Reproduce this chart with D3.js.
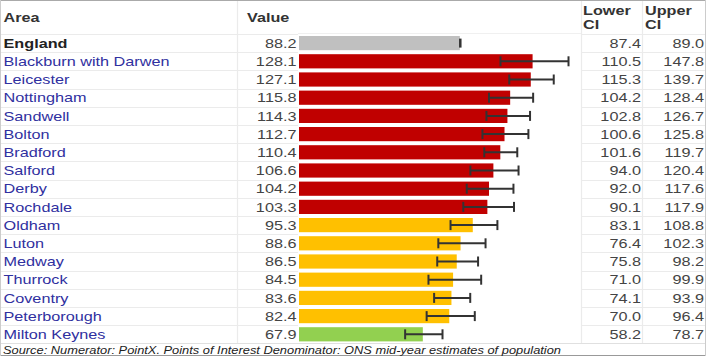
<!DOCTYPE html>
<html><head><meta charset="utf-8">
<script src="https://cdn.jsdelivr.net/npm/d3@7"></script>
<style>html,body{margin:0;padding:0;background:#fff;}svg{display:block;}</style>
</head><body>
<svg id="chart" width="706" height="357"></svg>
<script>
const areas = ["England","Blackburn with Darwen","Leicester","Nottingham","Sandwell","Bolton","Bradford","Salford","Derby","Rochdale","Oldham","Luton","Medway","Thurrock","Coventry","Peterborough","Milton Keynes"];
const values = [88.2,128.1,127.1,115.8,114.3,112.7,110.4,106.6,104.2,103.3,95.3,88.6,86.5,84.5,83.6,82.4,67.9];
const lowerCI = [87.4,110.5,115.3,104.2,102.8,100.6,101.6,94.0,92.0,90.1,83.1,76.4,75.8,71.0,74.1,70.0,58.2];
const upperCI = [89.0,147.8,139.7,128.4,126.7,125.8,119.7,120.4,117.6,117.9,108.8,102.3,98.2,99.9,93.9,96.4,78.7];
const significance = ["England","Higher","Higher","Higher","Higher","Higher","Higher","Higher","Higher","Higher","Similar","Similar","Similar","Similar","Similar","Similar","Lower"];
const headers = {area:"Area", value:"Value", lower:["Lower","CI"], upper:["Upper","CI"]};
const sourceText = "Source: Numerator: PointX. Points of Interest Denominator: ONS mid-year estimates of population";

const svg = d3.select("#chart");
const W = 706, H = 357;
const rows = areas.map((a,i)=>({area:a,value:values[i],lo:lowerCI[i],hi:upperCI[i],sig:significance[i],i}));

const y = d3.scaleBand().domain(areas).range([34, 34 + 18.2*areas.length]).padding(0);
const x = d3.scaleLinear().domain([0, 153]).range([299, 578]);
const colour = d3.scaleOrdinal().domain(["England","Higher","Similar","Lower"]).range(["#c0c0c0","#c00000","#ffc000","#92d050"]);

const font = "'Liberation Sans', Arial, sans-serif";
const SX = 1.3, HSX = 1.2;

const gridColor = "#ebebeb";
const rowBottoms = rows.map(d => y(d.area) + y.bandwidth());
[[0,298],[581,706]].forEach(([a,b])=>{
  svg.append("g").selectAll("line").data([34].concat(rowBottoms.slice(0,-1))).join("line")
    .attr("x1",a).attr("x2",b).attr("y1",d=>Math.round(d)+0.5).attr("y2",d=>Math.round(d)+0.5)
    .attr("stroke",gridColor).attr("stroke-width",1.2);
});
svg.append("line").attr("x1",298).attr("x2",581).attr("y1",33.5).attr("y2",33.5).attr("stroke","#f0f0f0");
[237, 581, 642].forEach(xx=>{
  svg.append("line").attr("x1",xx+0.5).attr("x2",xx+0.5).attr("y1",0).attr("y2",343)
    .attr("stroke",gridColor).attr("stroke-width",1.2);
});
svg.append("line").attr("x1",0).attr("x2",W).attr("y1",0.5).attr("y2",0.5).attr("stroke","#aaa");
svg.append("line").attr("x1",0).attr("x2",W).attr("y1",343.5).attr("y2",343.5).attr("stroke","#e0e0e0");
svg.append("line").attr("x1",0).attr("x2",W).attr("y1",355.5).attr("y2",355.5).attr("stroke","#999");
svg.append("line").attr("x1",0.5).attr("x2",0.5).attr("y1",0).attr("y2",356).attr("stroke","#ccc");
svg.append("line").attr("x1",705.5).attr("x2",705.5).attr("y1",0).attr("y2",356).attr("stroke","#ccc");

function htext(t, xx, yy){
  svg.append("text").attr("transform",`translate(${xx},${yy}) scale(${HSX},1)`)
    .attr("font-family",font).attr("font-weight","bold").attr("font-size",13.5)
    .attr("fill","#333").text(t);
}
htext(headers.area, 3.5, 22);
htext(headers.value, 247, 22);
htext(headers.lower[0], 583, 15); htext(headers.lower[1], 583, 29);
htext(headers.upper[0], 645, 15); htext(headers.upper[1], 645, 29);

svg.append("g").selectAll("rect").data(rows).join("rect")
  .attr("x", x(0)).attr("y", d=>y(d.area)+2).attr("width", d=>x(d.value)-x(0))
  .attr("height", y.bandwidth()-4).attr("fill", d=>colour(d.sig));

const eb = svg.append("g").attr("stroke","#333").attr("stroke-width",2);
rows.forEach(d=>{
  const cy = y(d.area) + y.bandwidth()/2;
  if (d.i === 0) {
    eb.append("line").attr("x1",x(d.hi)-1).attr("x2",x(d.hi)-1).attr("y1",cy-4.5).attr("y2",cy+4.5).attr("stroke-width",2.5);
    return;
  }
  eb.append("line").attr("x1",x(d.lo)).attr("x2",x(d.hi)).attr("y1",cy).attr("y2",cy);
  [d.lo,d.hi].forEach(v=>eb.append("line").attr("x1",x(v)).attr("x2",x(v)).attr("y1",cy-5).attr("y2",cy+5));
});

function btext(t, xx, yy, anchor, fill, bold){
  svg.append("text").attr("transform",`translate(${xx},${yy}) scale(${SX},1)`)
    .attr("font-family",font).attr("font-size",12.5).attr("text-anchor",anchor)
    .attr("font-weight", bold ? "bold" : "normal")
    .attr("fill",fill).text(t);
}
rows.forEach(d=>{
  const by = y(d.area) + 13.8;
  btext(d.area, 3.5, by, "start", d.i===0 ? "#222" : "#3030a0", d.i===0);
  btext(d3.format(".1f")(d.value), 296.5, by, "end", "#444");
  btext(d3.format(".1f")(d.lo), 641, by, "end", "#444");
  btext(d3.format(".1f")(d.hi), 704, by, "end", "#444");
});

svg.append("text").attr("x",3).attr("y",353.5)
  .attr("font-family",font).attr("font-size",11).attr("font-style","italic")
  .attr("fill","#222").attr("textLength",558).attr("lengthAdjust","spacingAndGlyphs")
  .text(sourceText);
</script>
</body></html>
